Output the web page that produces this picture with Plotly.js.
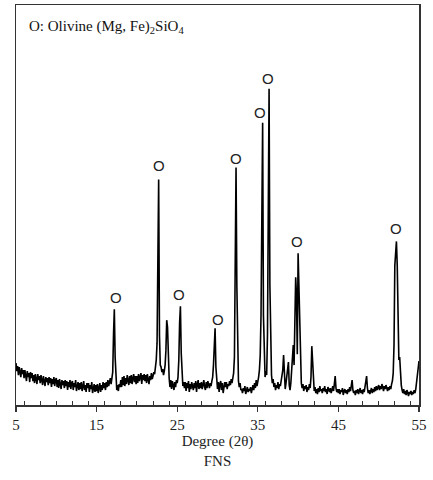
<!DOCTYPE html>
<html>
<head>
<meta charset="utf-8">
<script src="https://cdn.plot.ly/plotly-3.0.1.min.js"></script>
<style>html,body{margin:0;padding:0;background:#fff;}#chart{width:433px;height:480px;}</style>
</head>
<body>
<div id="chart"></div>
<script>
// XRD scan of FNS, 2θ from 5° to 55° in 0.1° steps (one row per degree)
const scanStart = 5.0;
const scanStep = 0.1;
const intensity = [
  42,34,39,30,38,33,28,37,31,35,   // 5
  27,35,29,24,34,28,32,23,33,27,   // 6
  32,24,30,22,31,26,21,31,25,29,   // 7
  22,30,24,20,29,25,19,28,23,27,   // 8
  20,28,22,27,18,26,21,28,19,25,   // 9
  27,18,25,17,26,21,16,25,20,24,   // 10
  17,25,19,24,15,23,18,25,16,22,   // 11
  24,15,22,18,25,14,21,23,15,22,   // 12
  16,23,14,21,24,15,20,13,22,17,   // 13
  22,13,20,16,23,12,19,21,13,20,   // 14
  14,21,12,19,22,13,20,15,23,17,   // 15
  22,15,23,18,25,19,24,27,21,29,   // 16
  33,71,96,48,27,15,20,14,21,18,   // 17
  25,18,28,20,29,19,27,21,30,23,   // 18
  20,29,22,30,21,27,31,23,29,21,   // 19
  29,22,31,24,28,32,21,30,25,31,   // 20
  24,30,22,31,26,21,29,25,32,26,   // 21
  29,33,31,38,45,62,120,226,70,40, // 22
  38,33,36,30,34,40,55,85,78,32,   // 23
  27,18,25,16,24,20,15,23,18,25,   // 24
  22,28,45,83,99,52,26,19,23,17,   // 25
  23,14,22,17,24,13,21,16,23,18,   // 26
  15,22,17,24,13,21,25,16,22,17,   // 27
  23,16,21,25,18,15,23,17,24,19,   // 28
  17,22,19,24,28,40,60,77,38,24,   // 29
  16,23,13,21,24,15,22,12,20,23,   // 30
  18,23,16,21,19,24,20,26,22,28,   // 31
  32,48,203,238,120,45,24,18,22,15,// 32
  16,12,17,14,19,11,15,18,13,16,   // 33
  14,18,12,16,20,15,22,17,25,19,   // 34
  23,28,35,50,90,200,283,90,38,28, // 35
  34,30,70,180,317,120,42,30,22,26,// 36
  18,22,15,20,17,23,16,21,19,24,   // 37
  28,35,50,26,16,22,30,38,43,20,   // 38
  15,22,35,45,60,40,75,128,110,51, // 39
  152,120,89,40,22,17,21,14,19,16, // 40
  20,13,18,15,21,17,28,59,40,18,   // 41
  14,18,12,16,11,17,13,19,14,16,   // 42
  12,17,14,19,13,16,11,18,15,13,   // 43
  17,12,15,19,14,22,29,17,13,16,   // 44
  12,16,11,15,13,17,10,14,16,12,   // 45
  15,11,16,13,18,14,19,25,15,12,   // 46
  14,10,15,12,16,11,14,17,12,15,   // 47
  11,16,13,18,22,29,17,12,15,11,   // 48
  14,17,12,16,13,18,14,19,15,17,   // 49
  20,15,19,16,21,18,14,19,16,20,   // 50
  17,14,18,15,19,16,21,24,32,60,   // 51
  140,162,164,140,70,45,48,30,20,15, // 52
  12,16,11,14,10,15,12,9,13,11,    // 53
  14,10,13,11,15,12,16,22,30,36,   // 54
  44                               // 55.0
];
const twoTheta = intensity.map((_, i) => +(scanStart + i * scanStep).toFixed(1));

// Olivine peak markers
const peakLabelX = [17.4, 22.76, 25.25, 30.1, 32.3, 35.3, 36.3, 39.9, 52.2];
const peakLabelY = [108, 240, 111, 86, 247, 293, 327, 164, 177];
const peakLabelText = ["O","O","O","O","O","O","O","O","O"];

// x axis ticks
const tickValues = [5, 15, 25, 35, 45, 55];
const tickLabels = ["5", "15", "25", "35", "45", "55"];

const serif = "Liberation Serif, Times New Roman, serif";

const annotations = peakLabelX.map((x, i) => ({
  x: x, y: peakLabelY[i], xref: "x", yref: "y",
  text: peakLabelText[i], showarrow: false,
  xanchor: "center", yanchor: "middle",
  font: {family: "Liberation Sans, Arial, sans-serif", size: 15, color: "#222"}
}));
annotations.push({
  x: 0.027, y: 0.945, xref: "paper", yref: "paper",
  text: "O: Olivine (Mg, Fe)<sub>2</sub>SiO<sub>4</sub>",
  showarrow: false, xanchor: "left", yanchor: "middle",
  font: {family: serif, size: 15, color: "#111"}
});

Plotly.newPlot("chart", [{
  x: twoTheta, y: intensity, type: "scatter", mode: "lines",
  line: {color: "#000", width: 1.6}, hoverinfo: "skip"
}], {
  width: 433, height: 480,
  margin: {l: 16, r: 14, t: 5, b: 75},
  paper_bgcolor: "#fff", plot_bgcolor: "#fff",
  showlegend: false,
  xaxis: {
    range: [5, 55], showgrid: false, zeroline: false,
    showline: true, linecolor: "#333", linewidth: 1.5, mirror: true,
    tickmode: "array", tickvals: tickValues, ticktext: tickLabels,
    ticks: "outside", ticklen: 5, tickwidth: 1.2, tickcolor: "#333",
    minor: {dtick: 2, ticks: "inside", ticklen: 4, tickwidth: 1, tickcolor: "#333", showgrid: false},
    tickfont: {family: serif, size: 15, color: "#222"},
    title: {text: "Degree (2θ)<br>FNS", font: {family: serif, size: 15, color: "#222"}, standoff: 4}
  },
  yaxis: {
    range: [0, 401], showgrid: false, zeroline: false,
    showline: true, linecolor: "#333", linewidth: 1.5, mirror: true,
    showticklabels: false, ticks: ""
  },
  annotations: annotations
}, {staticPlot: true, displayModeBar: false});
</script>
</body>
</html>
